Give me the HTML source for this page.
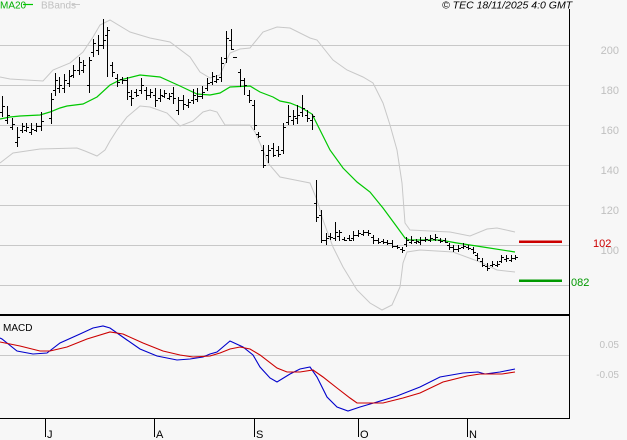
<!DOCTYPE html>
<html>
<head>
<meta charset="utf-8">
<style>
html,body{margin:0;padding:0;background:#f7f7f7;}
body{width:627px;height:440px;overflow:hidden;}
svg{display:block;}
text{font-family:"Liberation Sans",Arial,sans-serif;}
</style>
</head>
<body>
<svg width="627" height="440" viewBox="0 0 627 440" xmlns="http://www.w3.org/2000/svg">
<rect x="0" y="0" width="627" height="440" fill="#f7f7f7"/>
<g stroke="#c8c8c8" stroke-width="1" fill="none">
<path d="M0 45.5H569M0 85.5H569M0 125.5H569M0 165.5H569M0 205.5H569M0 245.5H569M0 285.5H569"/>
<path d="M0 355.5H569"/>
</g>
<g font-size="11" fill="#c0c0c0" text-anchor="end">
<text x="619" y="54">200</text>
<text x="619" y="94">180</text>
<text x="619" y="134">160</text>
<text x="619" y="174">140</text>
<text x="619" y="214">120</text>
<text x="619" y="254">100</text>
</g>
<g font-size="10" fill="#c0c0c0" text-anchor="end">
<text x="619" y="348">0.05</text>
<text x="619" y="378">-0.05</text>
</g>
<g stroke="#c8c8c8" stroke-width="1" fill="none">
<polyline points="0,77 10,79 43,81 53,70 70,63 83,52 93,37 100,25 110,20 130,32 150,38 170,42 190,57 200,72 210,78 220,75 230,53 240,49 250,48 263,32 277,27 290,28 310,38 317,40 333,60 347,70 363,77 373,83 383,103 390,125 397,150 402,183 405,223 410,230 450,232 470,236 487,229 497,228 515,232"/>
<polyline points="0,163 13,153 40,149 77,148 85,151 97,156 105,150 110,141 117,130 127,117 140,106 150,107 167,113 180,126 193,121 203,112 210,110 217,112 225,125 250,125 255,132 263,150 268,163 280,177 300,181 310,183 317,200 323,220 333,247 343,267 357,290 370,303 382,310 392,305 400,287 403,263 407,252 420,250 453,252 480,262 497,270 515,272"/>
</g>
<polyline fill="none" stroke="#00c800" stroke-width="1.2" points="0,119 10,117 20,116 40,115 50,112 60,108 67,106 83,104 97,97 110,85 120,80 140,75 160,77 180,86 197,94 210,95 220,93 230,87 250,86 260,92 273,97 280,101 290,103 300,107 312,114 320,130 330,150 343,168 357,182 370,192 383,208 397,227 405,238 410,240 440,240 457,243 483,247 515,252"/>
<path fill="none" stroke="#000" stroke-width="1" d="M2.5 96V117M0 112.5h2M3 106.5h2 M7.5 106V124M5 120.5h2M8 115.5h2 M12.5 118V130M10 127.5h2M13 124.5h2 M17.5 127V147M15 142.5h2M18 137.5h2 M22.5 123V133M20 130.5h2M23 126.5h2 M26.5 123V132M24 130.5h2M27 127.5h2 M31.5 123V135M29 132.5h2M32 129.5h2 M36.5 123V132M34 130.5h2M37 126.5h2 M41.5 112V131M39 126.5h2M42 121.5h2 M51.5 93V124M49 118.5h2M52 99.5h2 M55.5 73V96M53 90.5h2M56 80.5h2 M59.5 77V93M57 88.5h2M60 85.5h2 M64.5 74V93M62 88.5h2M65 80.5h2 M69.5 70V87M67 83.5h2M70 76.5h2 M73.5 65V78M71 75.5h2M74 70.5h2 M79.5 57V75M77 70.5h2M80 62.5h2 M83.5 60V73M81 70.5h2M84 65.5h2 M89.5 57V93M87 85.5h2M90 60.5h2 M93.5 39V57M91 52.5h2M94 43.5h2 M98.5 35V55M96 50.5h2M99 45.5h2 M103.5 19V49M101 45.5h2M104 40.5h2 M107.5 27V77M105 35.5h2M108 30.5h2 M112.5 62V77M110 65.5h2M113 72.5h2 M117.5 74V87M115 78.5h2M118 82.5h2 M122.5 77V84M120 79.5h2M123 80.5h2 M127.5 77V100M125 80.5h2M128 92.5h2 M131.5 90V106M129 96.5h2M132 98.5h2 M136.5 89V97M134 92.5h2M137 95.5h2 M141.5 78V94M139 90.5h2M142 85.5h2 M146.5 87V100M144 90.5h2M147 95.5h2 M150.5 89V98M148 95.5h2M151 92.5h2 M155.5 88V107M153 95.5h2M156 100.5h2 M160.5 89V102M158 98.5h2M161 95.5h2 M164.5 90V98M162 96.5h2M165 93.5h2 M169.5 93V100M167 98.5h2M170 96.5h2 M173.5 87V104M171 93.5h2M174 98.5h2 M178.5 97V115M176 110.5h2M179 100.5h2 M183.5 95V110M181 100.5h2M184 104.5h2 M188.5 99V108M186 105.5h2M189 102.5h2 M193.5 89V104M191 100.5h2M194 95.5h2 M197.5 88V102M195 99.5h2M198 96.5h2 M202.5 86V99M200 96.5h2M203 92.5h2 M207.5 78V91M205 88.5h2M208 83.5h2 M212.5 72V85M210 82.5h2M213 76.5h2 M216.5 75V83M214 81.5h2M217 79.5h2 M221.5 57V82M219 77.5h2M222 63.5h2 M226.5 31V63M224 58.5h2M227 38.5h2 M231.5 29V50M229 40.5h2M232 49.5h2 M233 57.5h4 M240.5 69V87M238 72.5h2M241 80.5h2 M244.5 78V95M242 80.5h2M245 85.5h2 M249.5 90V103M247 95.5h2M250 100.5h2 M254.5 100V130M252 105.5h2M255 125.5h2 M258.5 132V138M256 134.5h2M259 136.5h2 M263.5 145V168M261 150.5h2M264 165.5h2 M268.5 145V163M266 155.5h2M269 150.5h2 M273.5 143V157M271 148.5h2M274 155.5h2 M278.5 146V157M276 150.5h2M279 154.5h2 M283.5 123V154M281 150.5h2M284 127.5h2 M288.5 105V125M286 122.5h2M289 116.5h2 M293.5 110V125M291 120.5h2M294 116.5h2 M297.5 105V124M295 118.5h2M298 115.5h2 M302.5 95V117M300 112.5h2M303 108.5h2 M307.5 110V122M305 115.5h2M308 118.5h2 M312.5 114V130M310 120.5h2M313 116.5h2 M316.5 180V222M314 203.5h2M317 217.5h2 M321.5 210V243M319 215.5h2M322 240.5h2 M326.5 233V245M324 240.5h2M327 238.5h2 M330.5 233V240M328 236.5h2M331 237.5h2 M335.5 222V241M333 238.5h2M336 232.5h2 M339.5 230V241M337 236.5h2M340 232.5h2 M344.5 237V241M342 239.5h2M345 240.5h2 M349.5 235V241M347 238.5h2M350 240.5h2 M353.5 231V241M351 238.5h2M354 235.5h2 M358.5 230V237M356 235.5h2M359 233.5h2 M363.5 230V236M361 234.5h2M364 232.5h2 M368.5 230V236M366 232.5h2M369 233.5h2 M373.5 235V244M371 237.5h2M374 240.5h2 M378.5 238V244M376 240.5h2M379 242.5h2 M383.5 239V244M381 241.5h2M384 242.5h2 M387.5 240V245M385 242.5h2M388 243.5h2 M392.5 240V248M390 243.5h2M393 246.5h2 M397.5 245V249M395 246.5h2M398 247.5h2 M402.5 247V253M400 249.5h2M403 250.5h2 M406.5 237V247M404 244.5h2M407 240.5h2 M411.5 236V244M409 242.5h2M412 240.5h2 M416.5 239V244M414 242.5h2M417 241.5h2 M420.5 237V245M418 242.5h2M421 240.5h2 M425.5 237V242M423 240.5h2M426 239.5h2 M430.5 235V242M428 240.5h2M431 238.5h2 M435.5 234V241M433 239.5h2M436 237.5h2 M440.5 238V243M438 240.5h2M441 241.5h2 M445.5 238V243M443 240.5h2M446 242.5h2 M449.5 243V250M447 245.5h2M450 247.5h2 M453.5 245V252M451 247.5h2M454 249.5h2 M458.5 245V252M456 249.5h2M459 248.5h2 M463.5 243V249M461 247.5h2M464 246.5h2 M468.5 245V250M466 247.5h2M469 248.5h2 M473.5 247V254M471 249.5h2M474 252.5h2 M477.5 253V261M475 255.5h2M478 258.5h2 M482.5 258V267M480 261.5h2M483 265.5h2 M487.5 263V271M485 266.5h2M488 268.5h2 M492.5 261V267M490 265.5h2M493 264.5h2 M497.5 261V267M495 265.5h2M498 264.5h2 M501.5 255V263M499 261.5h2M502 257.5h2 M506.5 255V262M504 259.5h2M507 258.5h2 M511.5 255V262M509 260.5h2M512 258.5h2 M515.5 255V260M513 258.5h2M516 257.5h2"/>
<rect x="519" y="240.5" width="43" height="2.5" fill="#cc0000"/>
<rect x="519" y="279.5" width="43" height="2.5" fill="#009900"/>
<text x="593" y="247" font-size="11" fill="#cc0000">102</text>
<text x="571" y="286" font-size="11" fill="#009900">082</text>
<text x="0" y="8.5" font-size="10" fill="#00b000">MA20</text>
<line x1="23" y1="4.5" x2="33" y2="4.5" stroke="#00c800" stroke-width="1.2"/>
<text x="41" y="8.5" font-size="10" fill="#c0c0c0">BBands</text>
<line x1="72" y1="4.5" x2="80" y2="4.5" stroke="#c8c8c8" stroke-width="1"/>
<text x="442" y="8.5" font-size="10.5" font-style="italic" fill="#000">© TEC 18/11/2025 4:0 GMT</text>
<text x="3" y="331" font-size="10" fill="#000">MACD</text>
<polyline fill="none" stroke="#0000cc" stroke-width="1.1" points="0,338 2,339 17,351 33,354 47,353 60,343 80,334 93,328 103,326 110,328 127,340 140,349 157,356 177,360 190,359 203,357 210,354 217,352 230,341 243,347 253,355 260,367 270,378 277,382 290,374 300,369 310,367 317,377 327,397 337,407 348,411 360,407 377,402 397,396 420,387 440,377 463,373 478,372 485,374 500,372 515,369"/>
<polyline fill="none" stroke="#cc0000" stroke-width="1.1" points="0,342 20,346 40,351 50,351 67,347 87,339 110,332 123,334 143,343 163,351 180,355 193,357 210,356 220,353 230,349 240,347 250,349 260,355 277,368 287,372 300,372 313,370 323,377 337,388 350,398 357,403 383,403 403,398 420,393 443,382 467,376 480,374 502,374 515,372"/>
<rect x="0" y="314" width="570" height="2" fill="#000"/>
<line x1="569.5" y1="9" x2="569.5" y2="419" stroke="#000" stroke-width="1"/>
<line x1="0" y1="418.5" x2="570" y2="418.5" stroke="#000" stroke-width="1"/>
<g stroke="#000" stroke-width="1">
<line x1="45.5" y1="419" x2="45.5" y2="437"/>
<line x1="154.5" y1="419" x2="154.5" y2="437"/>
<line x1="254.5" y1="419" x2="254.5" y2="437"/>
<line x1="358.5" y1="419" x2="358.5" y2="437"/>
<line x1="467.5" y1="419" x2="467.5" y2="437"/>
</g>
<g font-size="11" fill="#000">
<text x="47" y="438">J</text>
<text x="156" y="438">A</text>
<text x="256" y="438">S</text>
<text x="360" y="438">O</text>
<text x="469" y="438">N</text>
</g>
</svg>
</body>
</html>
